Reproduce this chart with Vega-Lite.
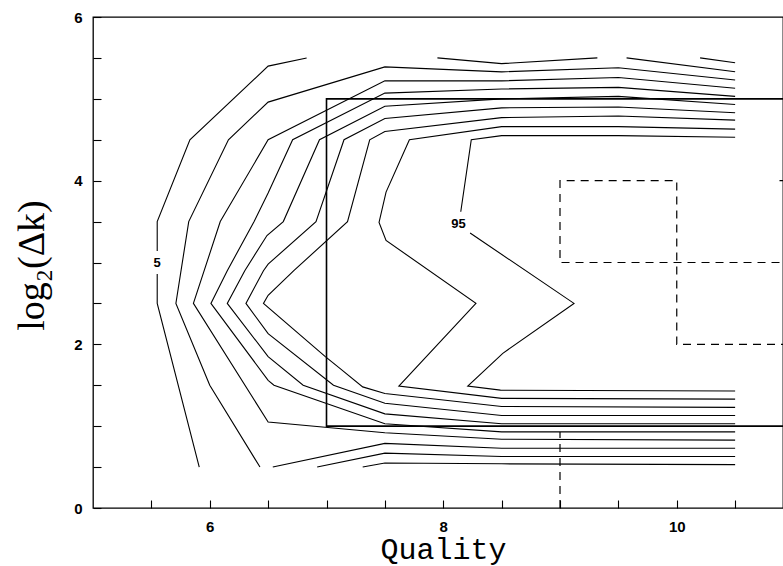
{
  "$schema": "https://vega.github.io/schema/vega-lite/v6.json",
  "width": 690,
  "height": 491,
  "autosize": {"type": "none"},
  "padding": {"left": 93, "top": 17, "right": 0, "bottom": 58},
  "background": "white",
  "config": {
    "view": {"stroke": "black", "strokeWidth": 1.3, "fill": null},
    "axis": {"grid": false, "domainColor": "black", "tickColor": "black", "labelColor": "black", "titleColor": "black", "domainWidth": 1.3, "tickWidth": 1.1}
  },
  "datasets": {
    "contours": [
      {"s":"c1a","o":1,"x":5.91,"y":0.5},{"s":"c1a","o":2,"x":5.55,"y":2.5},{"s":"c1a","o":3,"x":5.55,"y":2.86},
      {"s":"c1b","o":1,"x":5.55,"y":3.14},{"s":"c1b","o":2,"x":5.55,"y":3.5},{"s":"c1b","o":3,"x":5.83,"y":4.5},{"s":"c1b","o":4,"x":6.5,"y":5.40},{"s":"c1b","o":5,"x":6.83,"y":5.5},
      {"s":"c1c","o":1,"x":7.95,"y":5.5},{"s":"c1c","o":2,"x":8.5,"y":5.43},{"s":"c1c","o":3,"x":9.32,"y":5.5},
      {"s":"c1d","o":1,"x":10.2,"y":5.5},{"s":"c1d","o":2,"x":10.5,"y":5.44},
      {"s":"c1e","o":1,"x":9.57,"y":5.5},{"s":"c1e","o":2,"x":10.5,"y":5.33},
      {"s":"b1","o":1,"x":6.54,"y":0.5},{"s":"b1","o":2,"x":7.5,"y":0.79},{"s":"b1","o":3,"x":8.5,"y":0.73},{"s":"b1","o":4,"x":10.5,"y":0.73},
      {"s":"b2","o":1,"x":6.92,"y":0.5},{"s":"b2","o":2,"x":7.5,"y":0.67},{"s":"b2","o":3,"x":8.5,"y":0.63},{"s":"b2","o":4,"x":10.5,"y":0.63},
      {"s":"b3","o":1,"x":7.31,"y":0.5},{"s":"b3","o":2,"x":7.5,"y":0.55},{"s":"b3","o":3,"x":8.5,"y":0.54},{"s":"b3","o":4,"x":10.5,"y":0.53},
      {"s":"c2","o":1,"x":6.43,"y":0.5},{"s":"c2","o":2,"x":6.0,"y":1.5},{"s":"c2","o":3,"x":5.71,"y":2.5},{"s":"c2","o":4,"x":5.82,"y":3.5},{"s":"c2","o":5,"x":6.16,"y":4.5},{"s":"c2","o":6,"x":6.5,"y":4.96},{"s":"c2","o":7,"x":7.5,"y":5.39},{"s":"c2","o":8,"x":8.5,"y":5.33},{"s":"c2","o":9,"x":9.5,"y":5.38},{"s":"c2","o":10,"x":10.5,"y":5.23},
      {"s":"c3","o":1,"x":10.5,"y":0.83},{"s":"c3","o":2,"x":8.5,"y":0.84},{"s":"c3","o":3,"x":7.5,"y":0.92},{"s":"c3","o":4,"x":6.5,"y":1.05},{"s":"c3","o":5,"x":5.86,"y":2.5},{"s":"c3","o":6,"x":6.09,"y":3.5},{"s":"c3","o":7,"x":6.5,"y":4.5},{"s":"c3","o":8,"x":7.5,"y":5.22},{"s":"c3","o":9,"x":8.5,"y":5.22},{"s":"c3","o":10,"x":9.5,"y":5.26},{"s":"c3","o":11,"x":10.5,"y":5.13},
      {"s":"c4","o":1,"x":10.5,"y":0.93},{"s":"c4","o":2,"x":8.5,"y":0.93},{"s":"c4","o":3,"x":7.5,"y":1.03},{"s":"c4","o":4,"x":6.55,"y":1.5},{"s":"c4","o":5,"x":6.5,"y":1.56},{"s":"c4","o":6,"x":6.01,"y":2.5},{"s":"c4","o":7,"x":6.15,"y":2.9},{"s":"c4","o":8,"x":6.38,"y":3.5},{"s":"c4","o":9,"x":6.5,"y":3.85},{"s":"c4","o":10,"x":6.71,"y":4.5},{"s":"c4","o":11,"x":7.5,"y":5.07},{"s":"c4","o":12,"x":8.5,"y":5.12},{"s":"c4","o":13,"x":9.5,"y":5.14},{"s":"c4","o":14,"x":10.5,"y":5.03},
      {"s":"c5","o":1,"x":10.5,"y":1.03},{"s":"c5","o":2,"x":8.5,"y":1.03},{"s":"c5","o":3,"x":7.5,"y":1.15},{"s":"c5","o":4,"x":6.8,"y":1.5},{"s":"c5","o":5,"x":6.5,"y":1.85},{"s":"c5","o":6,"x":6.15,"y":2.5},{"s":"c5","o":7,"x":6.3,"y":2.9},{"s":"c5","o":8,"x":6.49,"y":3.33},{"s":"c5","o":9,"x":6.63,"y":3.5},{"s":"c5","o":10,"x":6.94,"y":4.5},{"s":"c5","o":11,"x":7.5,"y":4.91},{"s":"c5","o":12,"x":8.5,"y":5.0},{"s":"c5","o":13,"x":9.5,"y":5.03},{"s":"c5","o":14,"x":10.5,"y":4.93},
      {"s":"c6","o":1,"x":10.5,"y":1.13},{"s":"c6","o":2,"x":8.5,"y":1.13},{"s":"c6","o":3,"x":7.5,"y":1.28},{"s":"c6","o":4,"x":7.06,"y":1.5},{"s":"c6","o":5,"x":6.5,"y":2.13},{"s":"c6","o":6,"x":6.31,"y":2.5},{"s":"c6","o":7,"x":6.46,"y":2.9},{"s":"c6","o":8,"x":6.5,"y":2.98},{"s":"c6","o":9,"x":6.91,"y":3.5},{"s":"c6","o":10,"x":7.15,"y":4.5},{"s":"c6","o":11,"x":7.5,"y":4.76},{"s":"c6","o":12,"x":8.5,"y":4.89},{"s":"c6","o":13,"x":9.5,"y":4.9},{"s":"c6","o":14,"x":10.5,"y":4.83},
      {"s":"c7","o":1,"x":10.5,"y":1.23},{"s":"c7","o":2,"x":8.5,"y":1.24},{"s":"c7","o":3,"x":7.5,"y":1.4},{"s":"c7","o":4,"x":7.31,"y":1.48},{"s":"c7","o":5,"x":7.12,"y":1.7},{"s":"c7","o":6,"x":6.99,"y":1.85},{"s":"c7","o":7,"x":6.46,"y":2.5},{"s":"c7","o":8,"x":6.5,"y":2.6},{"s":"c7","o":9,"x":6.72,"y":2.9},{"s":"c7","o":10,"x":7.18,"y":3.5},{"s":"c7","o":11,"x":7.37,"y":4.5},{"s":"c7","o":12,"x":7.5,"y":4.6},{"s":"c7","o":13,"x":8.5,"y":4.77},{"s":"c7","o":14,"x":9.5,"y":4.79},{"s":"c7","o":15,"x":10.5,"y":4.74},
      {"s":"c8","o":1,"x":10.5,"y":4.63},{"s":"c8","o":2,"x":9.5,"y":4.66},{"s":"c8","o":3,"x":8.5,"y":4.66},{"s":"c8","o":4,"x":7.71,"y":4.5},{"s":"c8","o":5,"x":7.51,"y":3.86},{"s":"c8","o":6,"x":7.45,"y":3.49},{"s":"c8","o":7,"x":7.51,"y":3.27},{"s":"c8","o":8,"x":8.28,"y":2.5},{"s":"c8","o":9,"x":7.62,"y":1.49},{"s":"c8","o":10,"x":8.5,"y":1.34},{"s":"c8","o":11,"x":10.5,"y":1.33},
      {"s":"c9a","o":1,"x":10.5,"y":4.53},{"s":"c9a","o":2,"x":9.5,"y":4.55},{"s":"c9a","o":3,"x":8.5,"y":4.55},{"s":"c9a","o":4,"x":8.24,"y":4.5},{"s":"c9a","o":5,"x":8.15,"y":3.62},
      {"s":"c9b","o":1,"x":8.23,"y":3.36},{"s":"c9b","o":2,"x":9.12,"y":2.5},{"s":"c9b","o":3,"x":8.51,"y":1.89},{"s":"c9b","o":4,"x":8.21,"y":1.49},{"s":"c9b","o":5,"x":8.49,"y":1.44},{"s":"c9b","o":6,"x":10.5,"y":1.43}
    ],
    "box": [
      {"s":"box","o":1,"x":11,"y":5},{"s":"box","o":2,"x":7,"y":5},{"s":"box","o":3,"x":7,"y":1},{"s":"box","o":4,"x":11,"y":1}
    ],
    "dashed": [
      {"s":"d1","o":1,"x":11,"y":3},{"s":"d1","o":2,"x":9,"y":3},{"s":"d1","o":3,"x":9,"y":4},{"s":"d1","o":4,"x":10,"y":4},{"s":"d1","o":5,"x":10,"y":2},{"s":"d1","o":6,"x":11,"y":2},
      {"s":"d2","o":1,"x":9,"y":0},{"s":"d2","o":2,"x":9,"y":0.93},
      {"s":"d3","o":1,"x":10.88,"y":4},{"s":"d3","o":2,"x":11,"y":4}
    ],
    "labels": [
      {"x":5.55,"y":3.0,"t":"5"},
      {"x":8.13,"y":3.47,"t":"95"}
    ]
  },
  "layer": [
    {
      "data": {"name": "contours"},
      "mark": {"type": "line", "color": "black", "strokeWidth": 1.1},
      "encoding": {
        "x": {"field": "x", "type": "quantitative", "scale": {"domain": [5, 10.91], "nice": false, "zero": false},
          "axis": {"orient": "bottom", "values": [5.5,6,6.5,7,7.5,8,8.5,9,9.5,10,10.5], "offset": -8, "tickSize": 8, "domain": false,
            "labelExpr": "datum.value % 2 === 0 ? format(datum.value, 'd') : ''", "labelOverlap": false,
            "labelPadding": 11, "labelFont": "Liberation Sans", "labelFontSize": 15, "labelFontWeight": "bold",
            "title": "Quality", "titleFont": "Liberation Mono", "titleFontSize": 30, "titleFontWeight": "normal",
            "titleX": 350, "titleY": 58, "titleBaseline": "alphabetic", "titleAnchor": "middle", "titleAlign": "center"}},
        "y": {"field": "y", "type": "quantitative", "scale": {"domain": [0, 6], "nice": false, "zero": false},
          "axis": {"orient": "left", "values": [0,0.5,1,1.5,2,2.5,3,3.5,4,4.5,5,5.5,6], "offset": -8, "tickSize": 8, "domain": false,
            "labelExpr": "datum.value % 2 === 0 ? format(datum.value, 'd') : ''", "labelOverlap": false,
            "labelPadding": 11, "labelFont": "Liberation Sans", "labelFontSize": 15, "labelFontWeight": "bold",
            "title": "log₂(Δk)", "titleFont": "Liberation Serif", "titleFontSize": 38, "titleFontWeight": "normal",
            "titleAngle": -90, "titleX": -58, "titleY": 248, "titleBaseline": "alphabetic", "titleAlign": "center", "titleAnchor": "middle"}},
        "detail": {"field": "s"},
        "order": {"field": "o", "type": "quantitative"}
      }
    },
    {
      "data": {"name": "box"},
      "mark": {"type": "line", "color": "black", "strokeWidth": 1.6, "clip": true},
      "encoding": {
        "x": {"field": "x", "type": "quantitative", "scale": {"domain": [5, 10.91], "nice": false, "zero": false}},
        "y": {"field": "y", "type": "quantitative", "scale": {"domain": [0, 6], "nice": false, "zero": false}},
        "detail": {"field": "s"},
        "order": {"field": "o", "type": "quantitative"}
      }
    },
    {
      "data": {"name": "dashed"},
      "mark": {"type": "line", "color": "black", "strokeWidth": 1.2, "strokeDash": [8, 6], "clip": true},
      "encoding": {
        "x": {"field": "x", "type": "quantitative", "scale": {"domain": [5, 10.91], "nice": false, "zero": false}},
        "y": {"field": "y", "type": "quantitative", "scale": {"domain": [0, 6], "nice": false, "zero": false}},
        "detail": {"field": "s"},
        "order": {"field": "o", "type": "quantitative"}
      }
    },
    {
      "data": {"name": "labels"},
      "mark": {"type": "text", "font": "Liberation Sans", "fontSize": 13, "fontWeight": "bold", "color": "black", "align": "center", "baseline": "middle"},
      "encoding": {
        "x": {"field": "x", "type": "quantitative", "scale": {"domain": [5, 10.91], "nice": false, "zero": false}},
        "y": {"field": "y", "type": "quantitative", "scale": {"domain": [0, 6], "nice": false, "zero": false}},
        "text": {"field": "t"}
      }
    }
  ]
}
